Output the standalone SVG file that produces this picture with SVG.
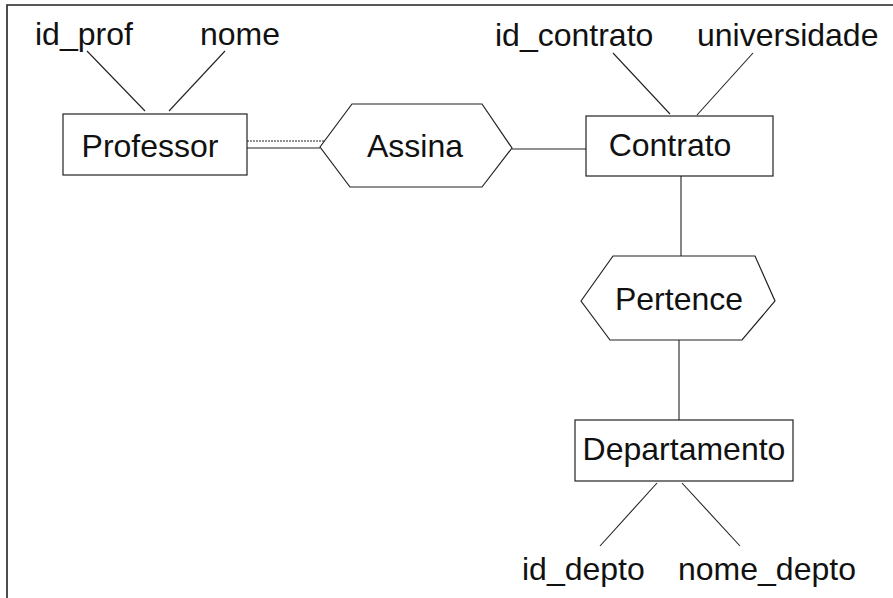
<svg xmlns="http://www.w3.org/2000/svg" width="893" height="598" viewBox="0 0 893 598">
  <style>
    .box { fill: #ffffff; stroke: #222222; stroke-width: 1.2; }
    .rel { fill: #ffffff; stroke: #222222; stroke-width: 1.2; }
    .lbl { font-family: "Liberation Sans", Arial, sans-serif; font-size: 32px; fill: #111111; }
    .mid { text-anchor: middle; }
    .edge { stroke: #222222; stroke-width: 1.1; fill: none; }
    .frame { stroke: #222222; stroke-width: 1.6; fill: none; }
  </style>
  <rect x="0" y="0" width="893" height="598" fill="#ffffff"/>

  <!-- page frame -->
  <path class="frame" d="M7,598 V5 H893"/>

  <g id="connectors">
    <!-- attribute links -->
    <line class="edge" x1="87" y1="51" x2="145" y2="111"/>
    <line class="edge" x1="225" y1="51" x2="169" y2="111"/>
    <line class="edge" x1="613" y1="53" x2="670" y2="114"/>
    <line class="edge" x1="753" y1="53" x2="697" y2="115"/>
    <line class="edge" x1="657" y1="483" x2="600" y2="546"/>
    <line class="edge" x1="682" y1="483" x2="740" y2="546"/>
    <!-- Professor = Assina (double line) -->
    <line class="edge" x1="247" y1="141" x2="324" y2="141" stroke-dasharray="2 1" stroke="#777777"/>
    <line class="edge" x1="247" y1="148" x2="320" y2="148"/>
    <!-- Assina - Contrato -->
    <line class="edge" x1="512" y1="149" x2="586" y2="149"/>
    <!-- Contrato - Pertence -->
    <line class="edge" x1="681" y1="176" x2="681" y2="256"/>
    <!-- Pertence - Departamento -->
    <line class="edge" x1="679" y1="340" x2="679" y2="420"/>
  </g>

  <g id="attr-id_prof"><text class="lbl" x="35" y="45">id_prof</text></g>
  <g id="attr-nome"><text class="lbl" x="200" y="45">nome</text></g>
  <g id="attr-id_contrato"><text class="lbl" x="495" y="46">id_contrato</text></g>
  <g id="attr-universidade"><text class="lbl" x="697" y="46">universidade</text></g>
  <g id="attr-id_depto"><text class="lbl" x="522" y="580">id_depto</text></g>
  <g id="attr-nome_depto"><text class="lbl" x="678" y="580">nome_depto</text></g>

  <g id="professor">
    <rect class="box" x="63" y="114" width="184" height="61"/>
    <text class="lbl mid" x="150" y="157">Professor</text>
  </g>

  <g id="assina">
    <polygon class="rel" points="320,147 352,104 482,104 512,148 482,187 350,187"/>
    <text class="lbl mid" x="415" y="157">Assina</text>
  </g>

  <g id="contrato">
    <rect class="box" x="586" y="116" width="187" height="60"/>
    <text class="lbl mid" x="670" y="156">Contrato</text>
  </g>

  <g id="pertence">
    <polygon class="rel" points="581,301 613,256 755,256 775,301 742,340 610,340"/>
    <text class="lbl mid" x="679" y="310">Pertence</text>
  </g>

  <g id="departamento">
    <rect class="box" x="575" y="420" width="218" height="61"/>
    <text class="lbl mid" x="684" y="460">Departamento</text>
  </g>
</svg>
